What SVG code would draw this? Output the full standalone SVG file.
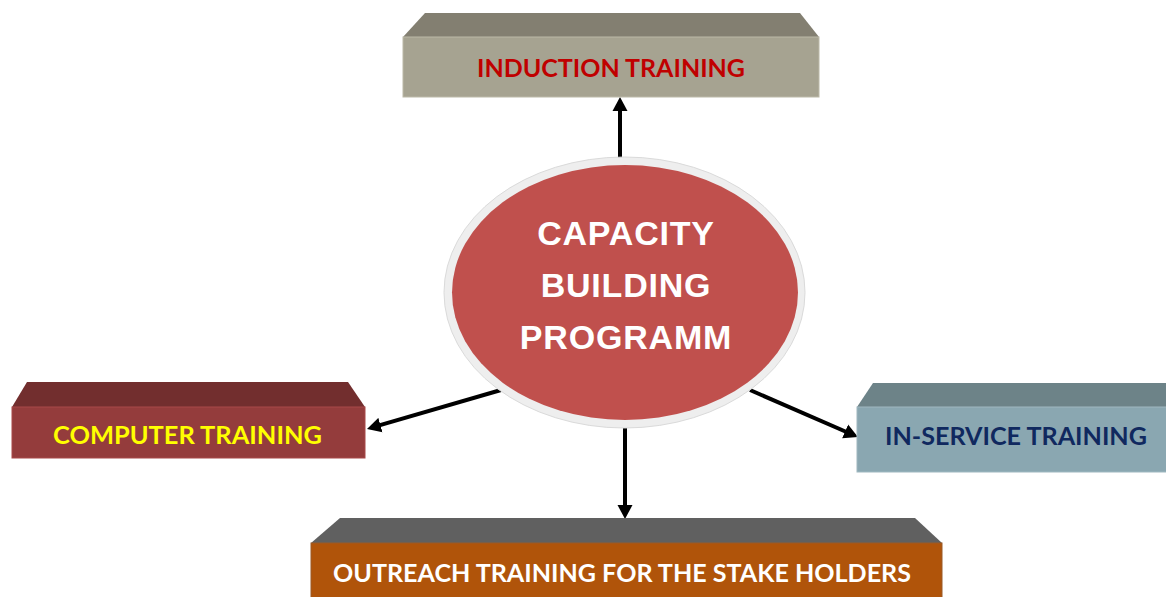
<svg xmlns="http://www.w3.org/2000/svg" width="1166" height="597" viewBox="0 0 1166 597">
  <style>
    .lbl { font-family: Lato, "Open Sans", "Liberation Sans", sans-serif; font-weight: 700; font-size: 24px; }
    .hub { font-family: "Liberation Sans", Arial, sans-serif; font-weight: 700; font-size: 34px; fill: #ffffff; letter-spacing: 0.8px; text-anchor: middle; }
    .conn { stroke: #000000; stroke-width: 4; fill: none; marker-end: url(#head); }
  </style>
  <defs>
    <marker id="head" markerUnits="userSpaceOnUse" markerWidth="15" markerHeight="16" refX="4" refY="7.5" orient="auto" viewBox="0 0 15 15">
      <path d="M0,0 L14,7.5 L0,15 z" fill="#000000"/>
    </marker>
  </defs>
  <rect width="1166" height="597" fill="#ffffff"/>

  <!-- connectors from the hub to each training block -->
  <g id="connectors">
    <line class="conn" x1="620" y1="158" x2="620" y2="107"/>
    <line class="conn" x1="501" y1="390" x2="376.6" y2="426.2"/>
    <line class="conn" x1="750" y1="390" x2="848.8" y2="433"/>
    <line class="conn" x1="625" y1="428" x2="625" y2="509"/>
  </g>

  <!-- hub ellipse -->
  <g id="hub">
    <ellipse cx="624.5" cy="292.5" rx="180.5" ry="135.5" fill="#eeeeee" stroke="#dadada" stroke-width="1"/>
    <ellipse cx="625" cy="292.5" rx="173" ry="127.5" fill="#c0504d"/>
    <text class="hub" x="626" y="245">CAPACITY</text>
    <text class="hub" x="626" y="297">BUILDING</text>
    <text class="hub" x="626" y="349">PROGRAMM</text>
  </g>

  <!-- bevelled blocks: top face + front face -->
  <g id="induction">
    <polygon points="403,37 425,13 800,13 819,37" fill="#837f71"/>
    <rect x="403" y="37" width="416" height="60" fill="#a6a391" stroke="#bcb9a8" stroke-width="1"/>
    <text class="lbl" x="477" y="77" fill="#c00000" textLength="268" lengthAdjust="spacingAndGlyphs">INDUCTION TRAINING</text>
  </g>

  <g id="computer">
    <polygon points="12,407 27,382 348,382 365,407" fill="#722e2e"/>
    <rect x="12" y="407" width="353" height="51" fill="#943c3c" stroke="#a84848" stroke-width="1"/>
    <text class="lbl" x="53" y="444" fill="#ffff00" textLength="269" lengthAdjust="spacingAndGlyphs">COMPUTER TRAINING</text>
  </g>

  <g id="inservice">
    <polygon points="857,407 873,383 1170,383 1170,407" fill="#6d8388"/>
    <rect x="857" y="407" width="312" height="65" fill="#8aa7b1" stroke="#9fb8c0" stroke-width="1"/>
    <text class="lbl" x="885" y="445" fill="#10295f" textLength="262" lengthAdjust="spacingAndGlyphs">IN-SERVICE TRAINING</text>
  </g>

  <g id="outreach">
    <polygon points="311,543 340,518 915,518 942,543" fill="#606060"/>
    <rect x="311" y="543" width="631" height="60" fill="#b0540a" stroke="#9a5a28" stroke-width="1"/>
    <text class="lbl" x="333" y="582" fill="#ffffff" textLength="578" lengthAdjust="spacingAndGlyphs">OUTREACH TRAINING FOR THE STAKE HOLDERS</text>
  </g>
</svg>
